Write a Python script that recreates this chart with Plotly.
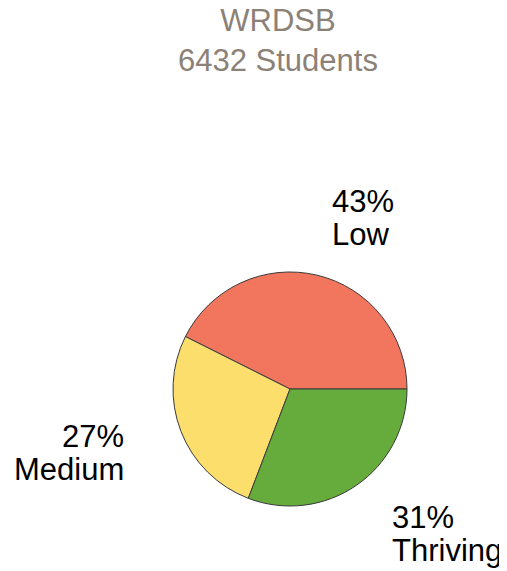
import math
import plotly.graph_objects as go

categories = ["Low", "Medium", "Thriving"]
values = [42.6, 26.6, 30.8]
colors = ["#F2765E", "#FBDE6C", "#66AC3C"]
title_lines = ["WRDSB", "6432 Students"]

W, H = 507, 571
FONT = "Arial, Liberation Sans, sans-serif"
TITLE_COLOR = "#8C8177"

# pie geometry (figure pixels)
CX, CY, R = 282, 381, 117
LABEL_DIST = 1.5      # label distance as a multiple of the radius
LINE_GAP = 33         # px between the two lines of a slice label

total = sum(values)
# first slice begins at 3 o'clock and runs counterclockwise
rotation = 90 - 360 * values[0] / total

fig = go.Figure(go.Pie(
    labels=categories,
    values=values,
    textinfo="none",
    automargin=False,
    sort=False,
    direction="counterclockwise",
    rotation=rotation,
    marker=dict(colors=colors, line=dict(color="#3a3a3a", width=1)),
    showlegend=False,
    hoverinfo="label+percent",
    domain=dict(x=[(CX - R) / W, (CX + R) / W],
                y=[(H - CY - R) / H, (H - CY + R) / H]),
))

annotations = []
cum = 0.0
for cat, v in zip(categories, values):
    mid = math.radians(360 * (cum + v / 2) / total)
    cum += v
    px = CX + LABEL_DIST * R * math.cos(mid)
    py = CY - LABEL_DIST * R * math.sin(mid)
    side_right = math.cos(mid) > 0
    anchor = "left" if side_right else "right"
    for line_text, off in ((f"{round(100 * v / total)}%", -LINE_GAP / 2),
                           (cat, LINE_GAP / 2)):
        annotations.append(dict(
            text=line_text, xref="paper", yref="paper",
            x=px / W, y=1 - (py + off) / H,
            xanchor=anchor, yanchor="middle", align=anchor,
            showarrow=False,
            font=dict(family=FONT, size=31, color="#000000"),
        ))

annotations.append(dict(
    text=title_lines[1], xref="paper", yref="paper",
    x=270 / W, xanchor="center", y=1 - 52 / H, yanchor="middle",
    showarrow=False,
    font=dict(family=FONT, size=31, color=TITLE_COLOR),
))

fig.update_layout(
    width=W, height=H,
    margin=dict(l=0, r=0, t=0, b=0, autoexpand=False),
    paper_bgcolor="white",
    title=dict(
        text=title_lines[0],
        x=270 / W, xanchor="center", y=1 - 12.5 / H, yanchor="middle",
        font=dict(family=FONT, size=31, color=TITLE_COLOR),
    ),
    annotations=annotations,
)

fig.write_html("out.html")
